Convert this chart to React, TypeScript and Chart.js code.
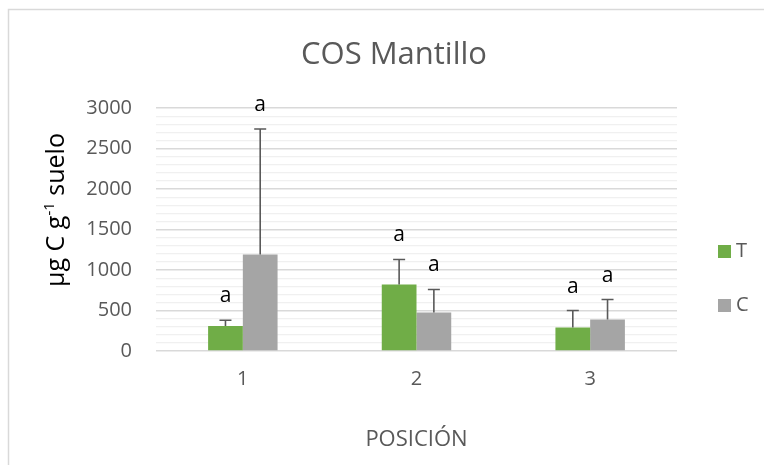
import React, { useEffect, useRef } from "react";
import { Chart, registerables } from "chart.js";

Chart.register(...registerables);

const categories = ["1", "2", "3"];
const seriesNames = ["T", "C"];
const valuesT = [310, 820, 290];
const valuesC = [1190, 475, 390];
const errT = [70, 310, 210];
const errC = [1550, 285, 245];
const lettersT = ["a", "a", "a"];
const lettersC = ["a", "a", "a"];
const colors = ["#70AD47", "#A5A5A5"];
const chartTitle = "COS Mantillo";
const xTitle = "POSICIÓN";
const yTitleMain = "µg C g";
const yTitleSup = "-1";
const yTitleEnd = " suelo";
const yMin = 0;
const yMax = 3000;
const yMajor = 500;
const yMinor = 100;

const FONT = "'Open Sans', 'DejaVu Sans', sans-serif";
const GREY_TEXT = "#595959";

const decorPlugin = {
  id: "decor",
  beforeDraw(chart: any) {
    const ctx = chart.ctx;
    ctx.save();
    ctx.fillStyle = "#FFFFFF";
    ctx.fillRect(0, 0, chart.width, chart.height);
    ctx.strokeStyle = "#D9D9D9";
    ctx.lineWidth = 1.5;
    ctx.strokeRect(8.5, 9.5, 800, 500);
    ctx.restore();
  },
  afterDatasetsDraw(chart: any) {
    const ctx = chart.ctx;
    const yScale = chart.scales.y;
    const errs = [errT, errC];
    const letters = [lettersT, lettersC];
    ctx.save();
    chart.data.datasets.forEach((ds: any, i: number) => {
      const meta = chart.getDatasetMeta(i);
      meta.data.forEach((el: any, j: number) => {
        const v = ds.data[j];
        const top = yScale.getPixelForValue(v + errs[i][j]);
        const base = yScale.getPixelForValue(v);
        ctx.strokeStyle = "#595959";
        ctx.lineWidth = 1.6;
        ctx.beginPath();
        ctx.moveTo(el.x, base);
        ctx.lineTo(el.x, top);
        ctx.moveTo(el.x - 6, top);
        ctx.lineTo(el.x + 6, top);
        ctx.stroke();
        ctx.fillStyle = "#000000";
        ctx.font = `21px ${FONT}`;
        ctx.textAlign = "center";
        ctx.textBaseline = "alphabetic";
        ctx.fillText(letters[i][j], el.x, top - 18);
      });
    });
    ctx.restore();
  },
  afterDraw(chart: any) {
    const ctx = chart.ctx;
    ctx.save();
    // Title
    ctx.fillStyle = GREY_TEXT;
    ctx.font = `31px ${FONT}`;
    ctx.textAlign = "center";
    ctx.textBaseline = "middle";
    ctx.fillText(chartTitle, 394, 55);

    // Y title with superscript
    ctx.save();
    ctx.translate(64, 210);
    ctx.rotate(-Math.PI / 2);
    ctx.fillStyle = "#000000";
    const mainFont = `25px ${FONT}`;
    const supFont = `15px ${FONT}`;
    ctx.font = mainFont;
    const w1 = ctx.measureText(yTitleMain).width;
    const w3 = ctx.measureText(yTitleEnd).width;
    ctx.font = supFont;
    const w2 = ctx.measureText(yTitleSup).width;
    const total = w1 + w2 + w3;
    let x = -total / 2;
    ctx.textAlign = "left";
    ctx.textBaseline = "alphabetic";
    ctx.font = mainFont;
    ctx.fillText(yTitleMain, x, 0);
    x += w1;
    ctx.font = supFont;
    ctx.fillText(yTitleSup, x, -10);
    x += w2;
    ctx.font = mainFont;
    ctx.fillText(yTitleEnd, x, 0);
    ctx.restore();

    // Legend
    const legendY = [251.5, 305.5];
    seriesNames.forEach((name, i) => {
      ctx.fillStyle = colors[i];
      ctx.fillRect(718, legendY[i] - 6.5, 13, 13);
      ctx.fillStyle = GREY_TEXT;
      ctx.font = `20px ${FONT}`;
      ctx.textAlign = "left";
      ctx.textBaseline = "middle";
      ctx.fillText(name, 736, legendY[i]);
    });
    ctx.restore();
  },
};

export default function App() {
  const canvasRef = useRef<HTMLCanvasElement | null>(null);

  useEffect(() => {
    if (!canvasRef.current) return;
    const chart = new Chart(canvasRef.current, {
      type: "bar",
      data: {
        labels: categories,
        datasets: [
          {
            label: seriesNames[0],
            data: valuesT,
            backgroundColor: colors[0],
            borderWidth: 0,
            categoryPercentage: 0.4,
            barPercentage: 1,
          },
          {
            label: seriesNames[1],
            data: valuesC,
            backgroundColor: colors[1],
            borderWidth: 0,
            categoryPercentage: 0.4,
            barPercentage: 1,
          },
        ],
      },
      options: {
        animation: false,
        responsive: false,
        maintainAspectRatio: false,
        devicePixelRatio: 1,
        layout: { padding: { left: 0, top: 108, right: 87, bottom: 0 } },
        plugins: {
          legend: { display: false },
          title: { display: false },
          tooltip: { enabled: false },
        },
        scales: {
          x: {
            grid: { display: false, drawTicks: false },
            border: { display: false },
            ticks: {
              color: GREY_TEXT,
              font: { family: FONT, size: 20 },
              padding: 16,
            },
            title: {
              display: true,
              text: xTitle,
              color: GREY_TEXT,
              font: { family: FONT, size: 22 },
              padding: { top: 0, bottom: 12 },
            },
            afterFit: (scale: any) => {
              scale.height = 114;
            },
          },
          y: {
            min: yMin,
            max: yMax,
            grid: {
              drawTicks: false,
              color: (c: any) =>
                c.tick && c.tick.value % yMajor === 0 ? "#D9D9D9" : "#F0F0F0",
              lineWidth: (c: any) =>
                c.tick && c.tick.value % yMajor === 0 ? 1.5 : 1.2,
            },
            border: { display: false },
            ticks: {
              stepSize: yMinor,
              autoSkip: false,
              color: GREY_TEXT,
              font: { family: FONT, size: 20 },
              padding: 24,
              callback: (v: any) => (Number(v) % yMajor === 0 ? String(v) : ""),
            },
            afterFit: (scale: any) => {
              scale.width = 156;
            },
          },
        },
      },
      plugins: [decorPlugin],
    });
    return () => chart.destroy();
  }, []);

  return (
    <div style={{ position: "fixed", left: 0, top: 0, width: 764, height: 465 }}>
      <canvas ref={canvasRef} width={764} height={465} style={{ width: 764, height: 465 }} />
    </div>
  );
}
